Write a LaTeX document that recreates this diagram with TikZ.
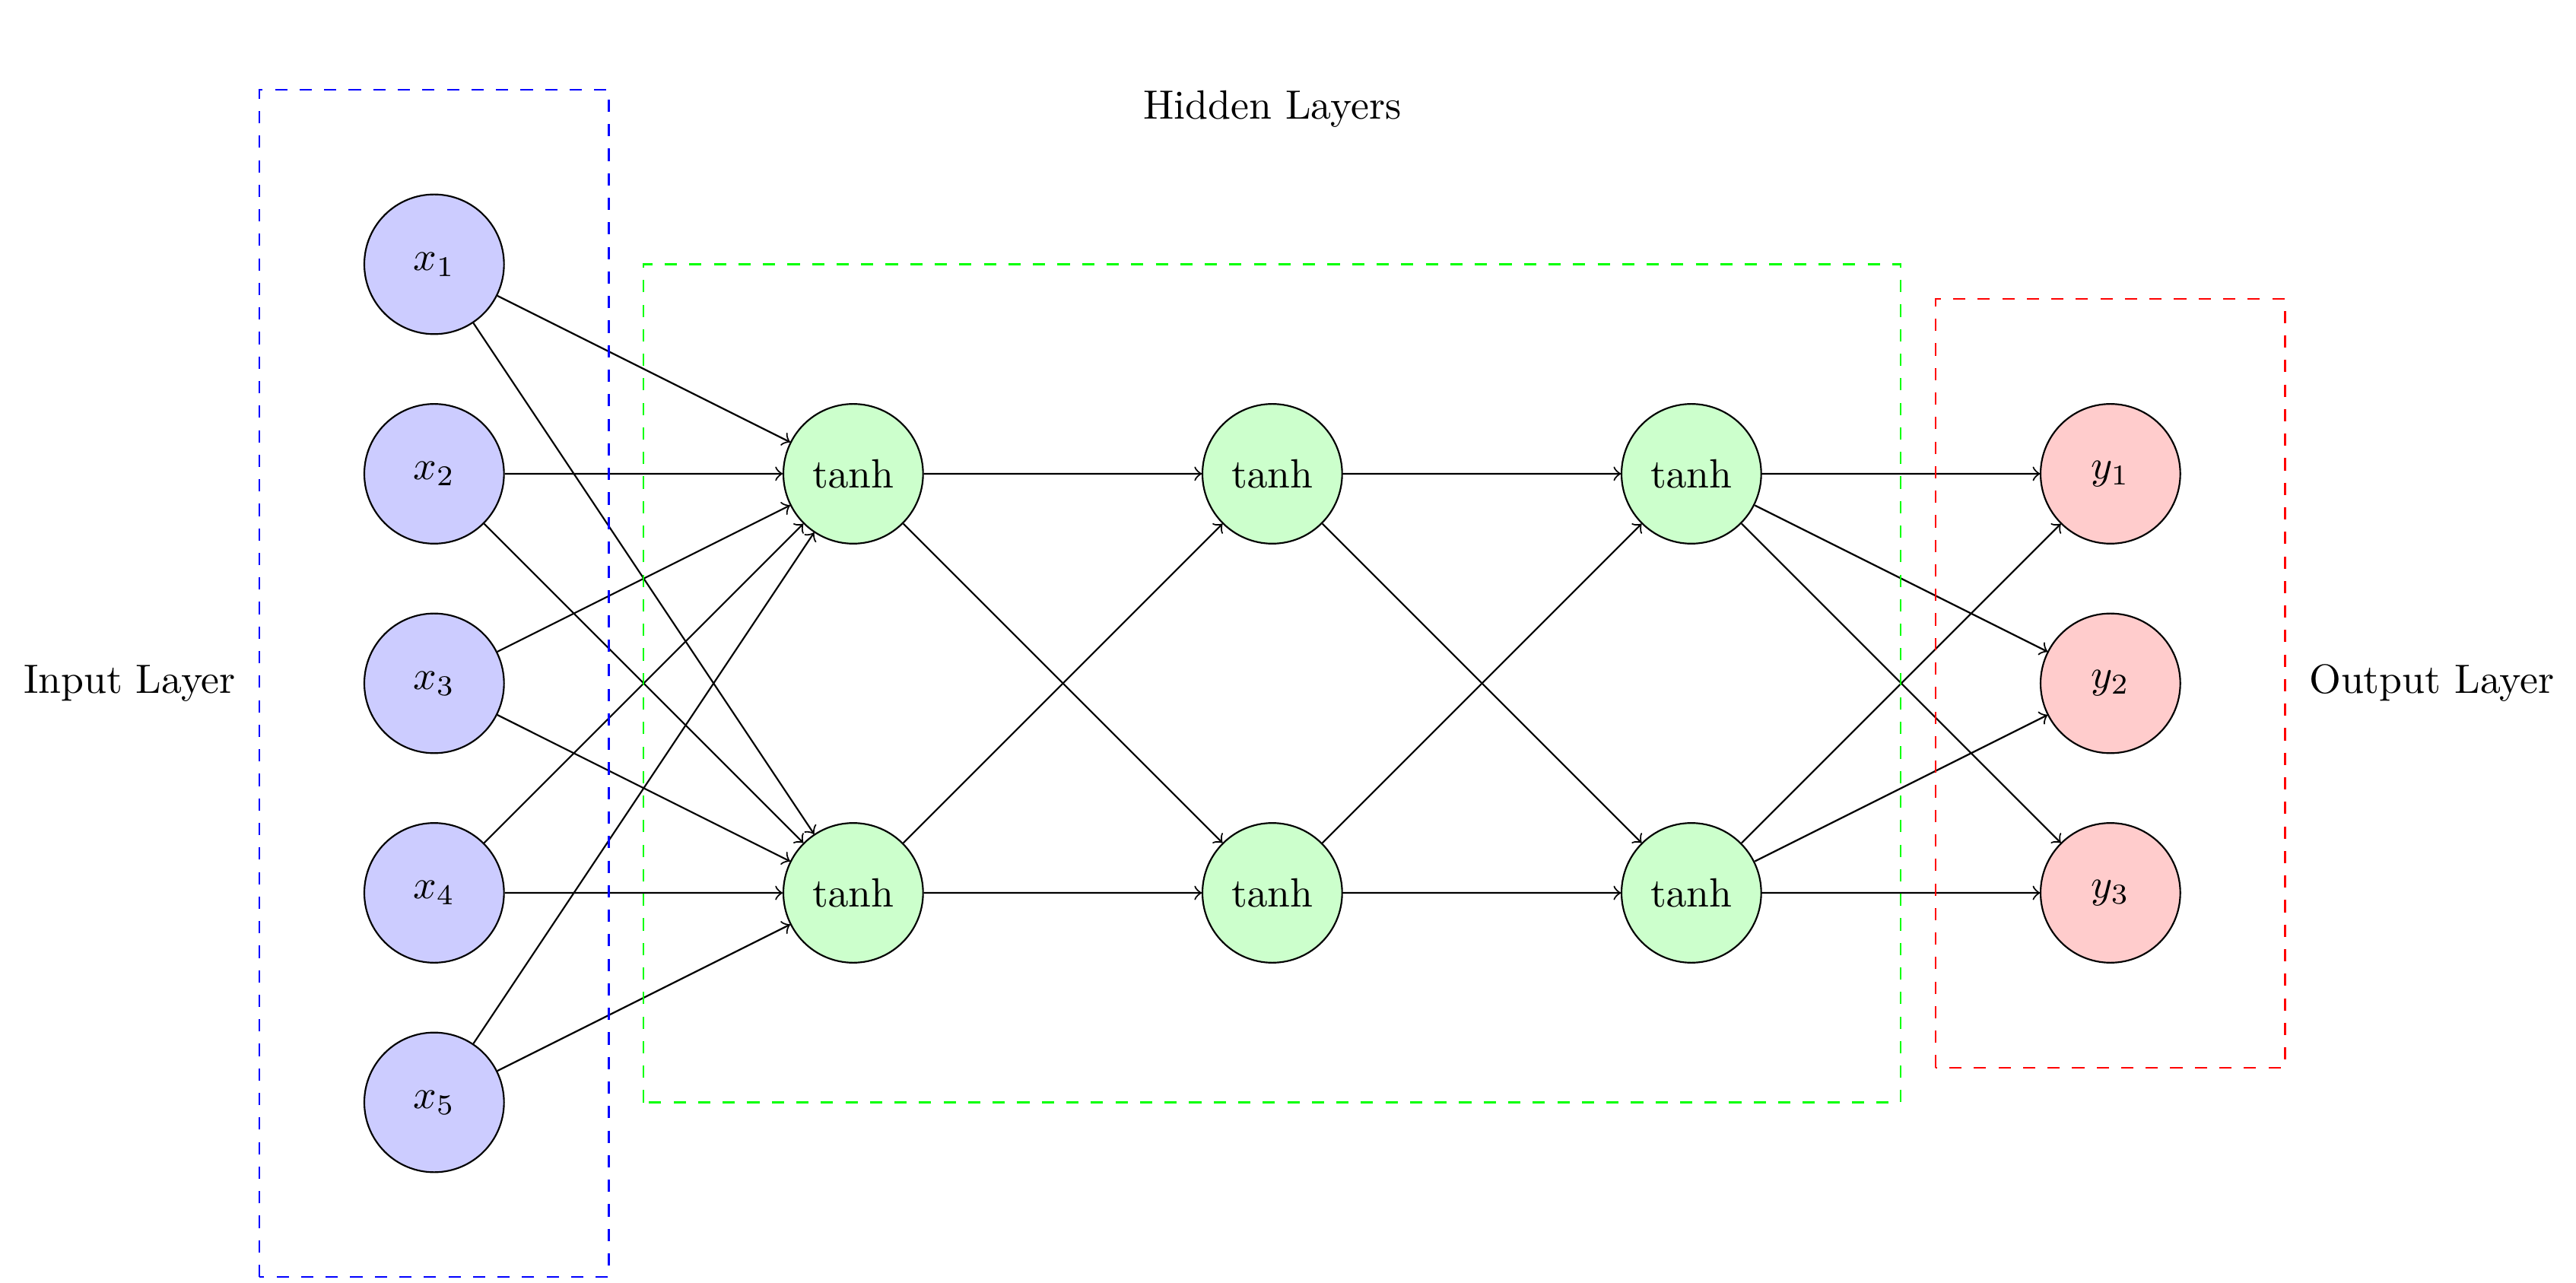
\documentclass[tikz,border=0pt]{standalone}
\usepackage{amsmath,amssymb}
\usepackage{tikz}
\usetikzlibrary{arrows}
\newcommand{\unitsize}{1.2cm}

\begin{document}
\begin{tikzpicture}[scale=1.2]
      \useasboundingbox (-3.108,-4.292) rectangle (15.333,4.892);

          %%  input layer %%
      \foreach \i in {1,...,5}
      { \node (x\i) at (0,4.5-1.5*\i)  [draw, circle, fill=blue!20, minimum size=\unitsize] {$x_\i$};}

          %%  hidden layers %%
      \foreach \l in {1,2,3}
      { \node (h\l1) at (3*\l,1.5)  [draw, circle, fill=green!20, minimum size=\unitsize] {$\tanh$};
        \node (h\l2) at (3*\l,-1.5)  [draw, circle, fill=green!20, minimum size=\unitsize] {$\tanh$};}

          %%  output layer %%
      \foreach \k in {1,2,3}
      { \node (y\k) at (12,3-1.5*\k)  [draw, circle, fill=red!20, minimum size=\unitsize] {$y_\k$};}

      \foreach \i in {1,...,5}
      { \foreach \j in {1,2}
        { \draw[->] (x\i) to (h1\j);}}
      \foreach \j in {1,2}
      { \foreach \m in {1,2}
        { \draw[->] (h1\j) to (h2\m);
          \draw[->] (h2\j) to (h3\m);}}
      \foreach \j in {1,2}
      { \foreach \k in {1,2,3}
        { \draw[->] (h3\j) to (y\k);}}

      \draw[dashed, blue] (-1.25,-4.25) rectangle (1.25,4.25);
      \draw[dashed, green] (1.5,-3) rectangle (10.5,3);
      \draw[dashed, red] (10.75,-2.75) rectangle (13.25,2.75);

          \draw (-2.18,0) node {Input Layer};
          \draw (6,4.11) node {Hidden Layers};
          \draw (14.3,0) node {Output Layer};

        \end{tikzpicture}
\end{document}
